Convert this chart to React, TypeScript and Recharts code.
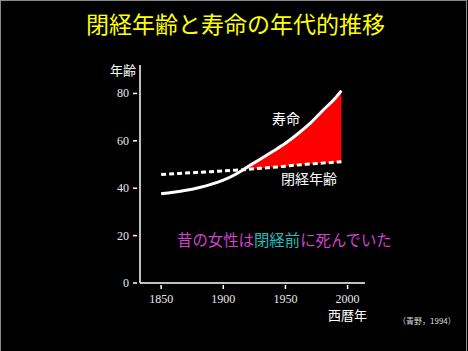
import { Area, ComposedChart, Line, XAxis, YAxis } from 'recharts';

const years = [1850, 1860, 1870, 1880, 1890, 1900, 1910, 1916, 1920, 1930, 1940, 1950, 1960, 1970, 1980, 1990, 1995];
const lifespan = [37.7, 38.3, 39.1, 40.2, 41.6, 43.4, 45.9, 47.8, 49.2, 52.3, 55.6, 59.0, 63.0, 67.5, 72.8, 78.0, 81.2];
const menopause = [45.8, 46.1, 46.4, 46.7, 47.0, 47.3, 47.6, 47.8, 48.0, 48.4, 48.8, 49.3, 49.8, 50.2, 50.6, 51.0, 51.2];
const xTicks = [1850, 1900, 1950, 2000];
const yTicks = [0, 20, 40, 60, 80];

const data = years.map((year, i) => ({
  year,
  life: lifespan[i],
  meno: menopause[i],
  gap: lifespan[i] >= menopause[i] ? [menopause[i], lifespan[i]] : null,
}));

const jp = '"Noto Sans CJK JP", "Noto Sans", sans-serif';
const serif = '"Liberation Serif", "DejaVu Serif", serif';

const YTick = ({ x, y, payload }: any) => (
  <g>
    <line x1={x - 7} x2={x - 3} y1={y} y2={y} stroke="#fff" strokeWidth={1.5} />
    <text x={x - 11} y={y} dy={4} textAnchor="end" fill="#e8e8e8" fontSize={12} fontFamily={serif}>
      {payload.value}
    </text>
  </g>
);

const XTick = ({ x, y, payload }: any) => (
  <g>
    <line x1={x} x2={x} y1={y + 2} y2={y + 6} stroke="#fff" strokeWidth={1.5} />
    <text x={x} y={y + 20} textAnchor="middle" fill="#e8e8e8" fontSize={12} fontFamily={serif}>
      {payload.value}
    </text>
  </g>
);

const label = (left: number, top: number, size: number, color: string): React.CSSProperties => ({
  position: 'absolute',
  left,
  top,
  fontSize: size,
  color,
  fontFamily: jp,
  lineHeight: 1,
  whiteSpace: 'nowrap',
});

export default function App() {
  return (
    <div style={{ position: 'absolute', left: 0, top: 0, width: 468, height: 351, background: '#000', overflow: 'hidden' }}>
      <div style={{ position: 'absolute', left: 0, top: 0, width: 465, height: 352, borderLeft: '1px solid #8a8a8a', borderTop: '1px solid #8a8a8a', borderRight: '1px solid #8a8a8a' }} />
      <div style={label(86, 12, 23, '#ffff00')}>閉経年齢と寿命の年代的推移</div>
      <ComposedChart width={468} height={351} data={data} margin={{ top: 65, right: 103, bottom: 38, left: 0 }}>
        <XAxis
          dataKey="year"
          type="number"
          domain={[1833, 2014]}
          ticks={xTicks}
          axisLine={{ stroke: '#fff', strokeWidth: 1.5 }}
          tickLine={false}
          tickSize={0}
          tickMargin={0}
          height={30}
          tick={<XTick />}
          interval={0}
        />
        <YAxis
          type="number"
          domain={[0, 92]}
          ticks={yTicks}
          axisLine={{ stroke: '#fff', strokeWidth: 1.5 }}
          tickLine={false}
          tickSize={0}
          tickMargin={0}
          width={140}
          tick={<YTick />}
          interval={0}
        />
        <Area dataKey="gap" type="monotone" fill="#ff0000" fillOpacity={1} stroke="none" isAnimationActive={false} />
        <Line dataKey="life" type="monotone" stroke="#fff" strokeWidth={3} dot={false} isAnimationActive={false} />
        <Line dataKey="meno" type="monotone" stroke="#fff" strokeWidth={3} strokeDasharray="5 3" dot={false} isAnimationActive={false} />
      </ComposedChart>
      <div style={label(110, 63, 13, '#fff')}>年齢</div>
      <div style={label(272, 111, 14, '#fff')}>寿命</div>
      <div style={label(281, 171, 14, '#fff')}>閉経年齢</div>
      <div style={label(328, 308, 13, '#fff')}>西暦年</div>
      <div style={label(398, 317, 8, '#ddd')}>（青野，1994）</div>
      <div style={label(177, 232, 15.4, '#cc44cc')}>
        昔の女性は<span style={{ color: '#22bbbb' }}>閉経前</span>に死んでいた
      </div>
    </div>
  );
}
